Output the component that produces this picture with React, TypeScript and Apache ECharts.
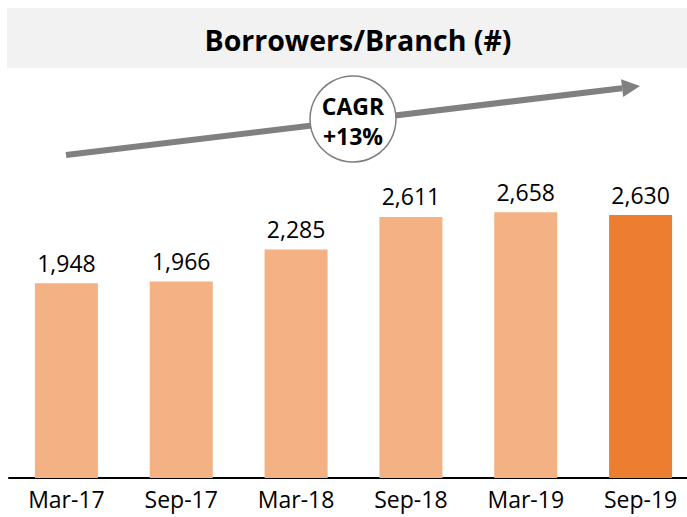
import React, { useEffect, useRef } from "react";
import * as echarts from "echarts";

const categories = ["Mar-17", "Sep-17", "Mar-18", "Sep-18", "Mar-19", "Sep-19"];
const borrowersPerBranch = [1948, 1966, 2285, 2611, 2658, 2630];
const titleText = "Borrowers/Branch (#)";
const cagrLines = ["CAGR", "+13%"];

const LIGHT = "#F4B183";
const DARK = "#ED7D31";
const FONT = "'Open Sans', 'Noto Sans', sans-serif";

export default function App() {
  const ref = useRef<HTMLDivElement>(null);

  useEffect(() => {
    if (!ref.current) return;
    const chart = echarts.init(ref.current, null, { renderer: "svg" });

    // arrow geometry
    const sx = 66, sy = 155, tx = 640, ty = 86;
    const dx = tx - sx, dy = ty - sy;
    const len = Math.sqrt(dx * dx + dy * dy);
    const ux = dx / len, uy = dy / len;
    const nx = -uy, ny = ux;
    const hl = 18, hw = 9;
    const bx = tx - hl * ux, by = ty - hl * uy;

    chart.setOption({
      animation: false,
      backgroundColor: "#ffffff",
      title: {
        text: titleText,
        left: 353,
        top: 35,
        textAlign: "center",
        textVerticalAlign: "middle",
        textStyle: { fontFamily: FONT, fontWeight: "bold", fontSize: 28.5, color: "#000" },
      },
      grid: { left: 9, width: 689, top: 178, bottom: 39, containLabel: false, outerBoundsMode: "none" },
      xAxis: {
        type: "category",
        data: categories,
        axisLine: { show: true, lineStyle: { color: "#000", width: 2 } },
        axisTick: { show: false },
        axisLabel: { color: "#000", fontFamily: FONT, fontSize: 23, margin: 9 },
      },
      yAxis: {
        type: "value",
        min: 0,
        max: 3000,
        show: false,
        splitLine: { show: false },
      },
      graphic: [
        {
          type: "rect",
          z: -10,
          shape: { x: 7, y: 8, width: 680, height: 60 },
          style: { fill: "#F2F2F2" },
        },
        {
          type: "line",
          z: 10,
          shape: { x1: sx, y1: sy, x2: bx, y2: by },
          style: { stroke: "#808080", lineWidth: 6 },
        },
        {
          type: "polygon",
          z: 10,
          shape: {
            points: [
              [tx, ty],
              [bx + hw * nx, by + hw * ny],
              [bx - hw * nx, by - hw * ny],
            ],
          },
          style: { fill: "#808080" },
        },
        {
          type: "circle",
          z: 11,
          shape: { cx: 353, cy: 119, r: 43 },
          style: { fill: "#ffffff", stroke: "#7F7F7F", lineWidth: 1.5 },
        },
        {
          type: "text",
          z: 12,
          x: 353,
          y: 106,
          style: {
            text: cagrLines[0],
            fontFamily: FONT,
            fontWeight: "bold",
            fontSize: 23,
            fill: "#000",
            align: "center",
            verticalAlign: "middle",
          },
        },
        {
          type: "text",
          z: 12,
          x: 353,
          y: 136,
          style: {
            text: cagrLines[1],
            fontFamily: FONT,
            fontWeight: "bold",
            fontSize: 23,
            fill: "#000",
            align: "center",
            verticalAlign: "middle",
          },
        },
      ],
      series: [
        {
          type: "bar",
          barWidth: 63,
          data: borrowersPerBranch.map((v, i) => ({
            value: v,
            itemStyle: { color: i === borrowersPerBranch.length - 1 ? DARK : LIGHT },
          })),
          label: {
            show: true,
            position: "top",
            distance: 9,
            color: "#000",
            fontFamily: FONT,
            fontSize: 23,
            formatter: (p: any) => Number(p.value).toLocaleString("en-US"),
          },
        },
      ],
    });

    return () => chart.dispose();
  }, []);

  return <div ref={ref} style={{ width: 687, height: 517, position: "absolute", left: 0, top: 0 }} />;
}
